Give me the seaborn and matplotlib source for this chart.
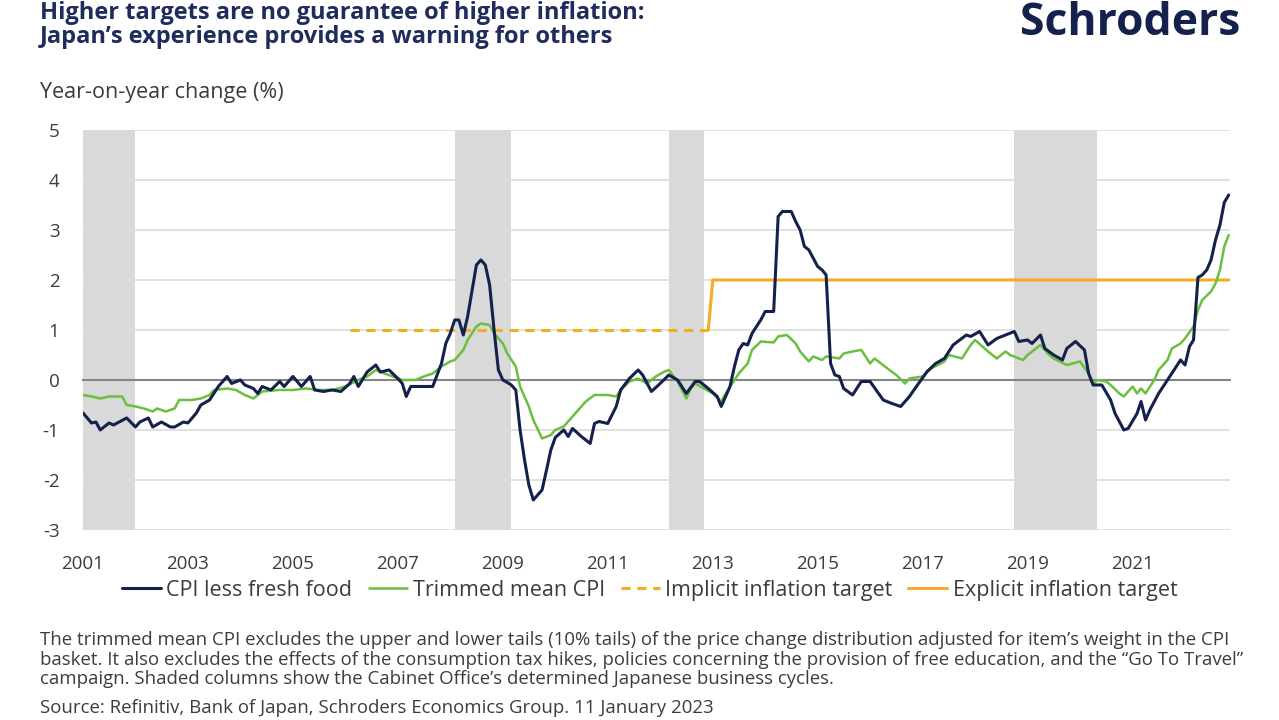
import pandas as pd
import numpy as np
import matplotlib.pyplot as plt
import matplotlib.dates as mdates
import seaborn as sns

# CPI less fresh food (yoy %)
core_dates = ['2001-01', '2001-03', '2001-04', '2001-05', '2001-07', '2001-08', '2001-11',
              '2002-01', '2002-02', '2002-04', '2002-05', '2002-07', '2002-09', '2002-10', '2002-12',
              '2003-01', '2003-03', '2003-04', '2003-06', '2003-08', '2003-10', '2003-11',
              '2004-01', '2004-02', '2004-04', '2004-05', '2004-06', '2004-08', '2004-10', '2004-11',
              '2005-01', '2005-03', '2005-05', '2005-06', '2005-08', '2005-10', '2005-12',
              '2006-02', '2006-03', '2006-04', '2006-06', '2006-08', '2006-09', '2006-11',
              '2007-01', '2007-02', '2007-03', '2007-04', '2007-06', '2007-09', '2007-11', '2007-12',
              '2008-01', '2008-02', '2008-03', '2008-04', '2008-05', '2008-06', '2008-07', '2008-08',
              '2008-09', '2008-10', '2008-11', '2008-12', '2009-01', '2009-02', '2009-03', '2009-04',
              '2009-05', '2009-06', '2009-07', '2009-08', '2009-09', '2009-10', '2009-11', '2009-12',
              '2010-01', '2010-02', '2010-03', '2010-04', '2010-05', '2010-07', '2010-09', '2010-10',
              '2010-11', '2011-01', '2011-03', '2011-04', '2011-06', '2011-08', '2011-09', '2011-11',
              '2012-01', '2012-03', '2012-05', '2012-07', '2012-09', '2012-10', '2012-12',
              '2013-02', '2013-03', '2013-05', '2013-06', '2013-07', '2013-08', '2013-09', '2013-10', '2013-12',
              '2014-01', '2014-03', '2014-04', '2014-05', '2014-07', '2014-08', '2014-09', '2014-10', '2014-11',
              '2015-01', '2015-02', '2015-03', '2015-04', '2015-05', '2015-06', '2015-07', '2015-09', '2015-11',
              '2016-01', '2016-04', '2016-06', '2016-08', '2016-10', '2016-11',
              '2017-02', '2017-04', '2017-06', '2017-08', '2017-11', '2017-12',
              '2018-02', '2018-04', '2018-06', '2018-08', '2018-10', '2018-11',
              '2019-01', '2019-02', '2019-04', '2019-05', '2019-07', '2019-09', '2019-10', '2019-12',
              '2020-02', '2020-03', '2020-04', '2020-06', '2020-08', '2020-09', '2020-11', '2020-12',
              '2021-02', '2021-03', '2021-04', '2021-05', '2021-07', '2021-09', '2021-11', '2021-12',
              '2022-01', '2022-02', '2022-03', '2022-04', '2022-05', '2022-06', '2022-07', '2022-08',
              '2022-09', '2022-10', '2022-11']
core_values = [-0.66, -0.86, -0.84, -1.0, -0.86, -0.9, -0.76,
               -0.94, -0.84, -0.76, -0.94, -0.84, -0.94, -0.94, -0.84,
               -0.86, -0.66, -0.5, -0.4, -0.13, 0.07, -0.07,
               0.0, -0.1, -0.17, -0.27, -0.13, -0.2, -0.03, -0.13,
               0.07, -0.13, 0.07, -0.2, -0.23, -0.2, -0.23,
               -0.07, 0.07, -0.13, 0.16, 0.3, 0.16, 0.2,
               0.03, -0.07, -0.33, -0.13, -0.13, -0.13, 0.33, 0.73,
               0.93, 1.2, 1.2, 0.9, 1.27, 1.8, 2.3, 2.4,
               2.3, 1.9, 1.0, 0.2, 0.0, -0.05, -0.1, -0.2,
               -1.0, -1.6, -2.1, -2.4, -2.3, -2.2, -1.8, -1.4,
               -1.15, -1.07, -1.0, -1.13, -0.97, -1.13, -1.27, -0.87,
               -0.83, -0.87, -0.53, -0.2, 0.03, 0.2, 0.1, -0.23,
               -0.07, 0.1, 0.0, -0.27, -0.03, -0.03, -0.17,
               -0.33, -0.53, -0.13, 0.27, 0.6, 0.73, 0.7, 0.93, 1.2,
               1.37, 1.37, 3.27, 3.37, 3.37, 3.17, 3.0, 2.67, 2.6,
               2.27, 2.2, 2.1, 0.33, 0.1, 0.07, -0.17, -0.3, -0.03,
               -0.03, -0.4, -0.47, -0.53, -0.33, -0.2,
               0.17, 0.33, 0.43, 0.7, 0.9, 0.87,
               0.97, 0.7, 0.83, 0.9, 0.97, 0.77,
               0.8, 0.73, 0.9, 0.63, 0.5, 0.4, 0.63, 0.77,
               0.6, 0.13, -0.1, -0.1, -0.4, -0.67, -1.0, -0.97,
               -0.67, -0.43, -0.8, -0.6, -0.27, 0.0, 0.27, 0.4,
               0.3, 0.67, 0.8, 2.05, 2.1, 2.2, 2.4, 2.8,
               3.1, 3.55, 3.7]

# Trimmed mean CPI (yoy %)
trim_dates = ['2001-01', '2001-03', '2001-05', '2001-07', '2001-10', '2001-11',
              '2002-01', '2002-03', '2002-05', '2002-06', '2002-08', '2002-10', '2002-11',
              '2003-02', '2003-04', '2003-06', '2003-07', '2003-10', '2003-12',
              '2004-02', '2004-04', '2004-06', '2004-10', '2005-01', '2005-04', '2005-07', '2005-10',
              '2006-01', '2006-04', '2006-06', '2006-08', '2006-10',
              '2007-02', '2007-05', '2007-07', '2007-09', '2007-11',
              '2008-01', '2008-02', '2008-04', '2008-05', '2008-07', '2008-08', '2008-10', '2008-11',
              '2009-01', '2009-02', '2009-04', '2009-05', '2009-07', '2009-08', '2009-10', '2009-12',
              '2010-01', '2010-03', '2010-04', '2010-06', '2010-08', '2010-10',
              '2011-01', '2011-03', '2011-04', '2011-06', '2011-08', '2011-10', '2011-12',
              '2012-02', '2012-03', '2012-05', '2012-07', '2012-08', '2012-09', '2012-11',
              '2013-01', '2013-03', '2013-04', '2013-06', '2013-07', '2013-09', '2013-10', '2013-12',
              '2014-03', '2014-04', '2014-06', '2014-08', '2014-09', '2014-11', '2014-12',
              '2015-02', '2015-03', '2015-06', '2015-07', '2015-09', '2015-11',
              '2016-01', '2016-02', '2016-05', '2016-07', '2016-09', '2016-10',
              '2017-01', '2017-03', '2017-06', '2017-07', '2017-10', '2017-12',
              '2018-01', '2018-04', '2018-06', '2018-08', '2018-09', '2018-12',
              '2019-01', '2019-04', '2019-05', '2019-06', '2019-07', '2019-10',
              '2020-01', '2020-03', '2020-04', '2020-05', '2020-07', '2020-08', '2020-10', '2020-11',
              '2021-01', '2021-02', '2021-03', '2021-04', '2021-06', '2021-07', '2021-09', '2021-10', '2021-12',
              '2022-01', '2022-03', '2022-04', '2022-05', '2022-07', '2022-08', '2022-09', '2022-10', '2022-11']
trim_values = [-0.3, -0.33, -0.37, -0.33, -0.33, -0.5,
               -0.53, -0.57, -0.63, -0.57, -0.63, -0.57, -0.4,
               -0.4, -0.37, -0.3, -0.2, -0.17, -0.2,
               -0.3, -0.37, -0.23, -0.2, -0.2, -0.17, -0.2, -0.2,
               -0.13, 0.0, 0.07, 0.2, 0.13,
               0.0, 0.0, 0.07, 0.13, 0.27,
               0.37, 0.4, 0.6, 0.8, 1.07, 1.13, 1.1, 0.93,
               0.73, 0.53, 0.27, -0.13, -0.53, -0.8, -1.17, -1.1,
               -1.0, -0.93, -0.83, -0.63, -0.43, -0.3,
               -0.3, -0.33, -0.2, -0.03, 0.03, -0.07, 0.07,
               0.17, 0.2, -0.03, -0.37, -0.17, -0.07, -0.17,
               -0.27, -0.43, -0.27, 0.0, 0.13, 0.33, 0.6, 0.77,
               0.75, 0.87, 0.9, 0.73, 0.57, 0.37, 0.47,
               0.4, 0.47, 0.43, 0.53, 0.57, 0.6,
               0.33, 0.43, 0.23, 0.1, -0.07, 0.03,
               0.07, 0.23, 0.37, 0.5, 0.43, 0.7,
               0.8, 0.57, 0.43, 0.57, 0.5, 0.4,
               0.5, 0.7, 0.6, 0.5, 0.43, 0.3,
               0.37, 0.13, -0.07, 0.0, -0.03, -0.1, -0.27, -0.33,
               -0.13, -0.27, -0.17, -0.27, 0.0, 0.2, 0.4, 0.63, 0.73,
               0.83, 1.07, 1.4, 1.6, 1.77, 1.93, 2.2, 2.67, 2.9]

implicit_dates = ['2006-02', '2012-12']
implicit_values = [1.0, 1.0]
explicit_dates = ['2012-12', '2013-01', '2022-11']
explicit_values = [1.0, 2.0, 2.0]

# Cabinet Office business-cycle contractions
recession_starts = ['2000-12', '2008-02', '2012-03', '2018-10']
recession_ends = ['2002-01', '2009-03', '2012-11', '2020-05']

year_labels = ['2001', '2003', '2005', '2007', '2009', '2011', '2013', '2015', '2017', '2019', '2021']
y_ticks = [5, 4, 3, 2, 1, 0, -1, -2, -3]

navy = '#14214d'
green = '#6abf3f'
orange = '#f4ab25'
shade = '#d9d9d9'
text_col = '#3c3c3c'

sns.set_style('white')
plt.rcParams['font.family'] = ['Open Sans', 'DejaVu Sans']

core = pd.DataFrame({'date': pd.to_datetime(core_dates), 'value': core_values})
trim = pd.DataFrame({'date': pd.to_datetime(trim_dates), 'value': trim_values})
implicit = pd.DataFrame({'date': pd.to_datetime(implicit_dates), 'value': implicit_values})
explicit = pd.DataFrame({'date': pd.to_datetime(explicit_dates), 'value': explicit_values})

fig = plt.figure(figsize=(12.79, 7.2), dpi=100)
ax = fig.add_axes([0.0649, 0.2639, 0.8968, 0.5556])

# Shaded business-cycle columns
for s, e in zip(recession_starts, recession_ends):
    ax.axvspan(pd.Timestamp(s), pd.Timestamp(e), color=shade, lw=0, zorder=0)

sns.lineplot(data=core, x='date', y='value', ax=ax, color=navy, lw=2.2,
             label='CPI less fresh food', zorder=4)
sns.lineplot(data=trim, x='date', y='value', ax=ax, color=green, lw=1.8,
             label='Trimmed mean CPI', zorder=3)
sns.lineplot(data=implicit, x='date', y='value', ax=ax, color=orange, lw=2.2,
             linestyle=(0, (3, 2.2)), label='Implicit inflation target', zorder=2)
sns.lineplot(data=explicit, x='date', y='value', ax=ax, color=orange, lw=2.2,
             label='Explicit inflation target', zorder=2)

ax.set_xlim(pd.Timestamp('2001-01-01'), pd.Timestamp('2022-11-10'))
ax.set_ylim(-3, 5)
ax.set_yticks(y_ticks)
ax.set_yticklabels([str(t) for t in y_ticks])
ax.yaxis.grid(True, color='#dcdcdc', lw=1.2)
ax.set_axisbelow(True)
ax.set_xlabel('')
ax.set_ylabel('')

for side in ['top', 'right', 'left']:
    ax.spines[side].set_visible(False)
# x-axis line sits on zero
ax.spines['bottom'].set_position(('data', 0))
ax.spines['bottom'].set_color('#858585')
ax.spines['bottom'].set_linewidth(1.5)
ax.spines['bottom'].set_zorder(1.5)

tick_pos = [mdates.date2num(pd.Timestamp(y + '-01-01')) for y in year_labels]
ax.set_xticks(tick_pos)
ax.tick_params(axis='x', direction='out', length=4, width=1, color='#858585', labelbottom=False)
ax.tick_params(axis='y', length=0, pad=17, labelsize=13.5, labelcolor=text_col)

sec = ax.secondary_xaxis('bottom')
sec.set_xticks(tick_pos, labels=year_labels)
sec.tick_params(length=0, pad=18, labelsize=13.5, labelcolor=text_col)
sec.spines['bottom'].set_visible(False)

ax.legend_.remove()
handles, labels = ax.get_legend_handles_labels()
fig.legend(handles, labels, loc='center', bbox_to_anchor=(0.508, 0.180), ncol=4,
           frameon=False, fontsize=15.5, handlelength=1.8, handletextpad=0.25,
           columnspacing=0.75, labelcolor=text_col)

# Titles and notes
title = ("Higher targets are no guarantee of higher inflation:\n"
         "Japan\u2019s experience provides a warning for others")
fig.text(0.031, 0.999, title, fontsize=17, fontweight='bold', color='#1f2c5c',
         va='top', linespacing=1.0)
fig.text(0.9695, 0.9514, 'Schroders', fontsize=32, fontweight='bold', color=navy,
         ha='right', va='baseline')
fig.text(0.031, 0.872, 'Year-on-year change (%)', fontsize=15.5, color=text_col, va='center')

note = ("The trimmed mean CPI excludes the upper and lower tails (10% tails) of the price change distribution "
        "adjusted for item\u2019s weight in the CPI\n"
        "basket. It also excludes the effects of the consumption tax hikes, policies concerning the provision "
        "of free education, and the \u201cGo To Travel\u201d\n"
        "campaign. Shaded columns show the Cabinet Office\u2019s determined Japanese business cycles.")
fig.text(0.031, 0.123, note, fontsize=13.4, color=text_col, va='top', linespacing=1.08)
fig.text(0.031, 0.0167, 'Source: Refinitiv, Bank of Japan, Schroders Economics Group. 11 January 2023',
         fontsize=13.4, color=text_col, va='center')

plt.savefig('out.png', dpi=100)
